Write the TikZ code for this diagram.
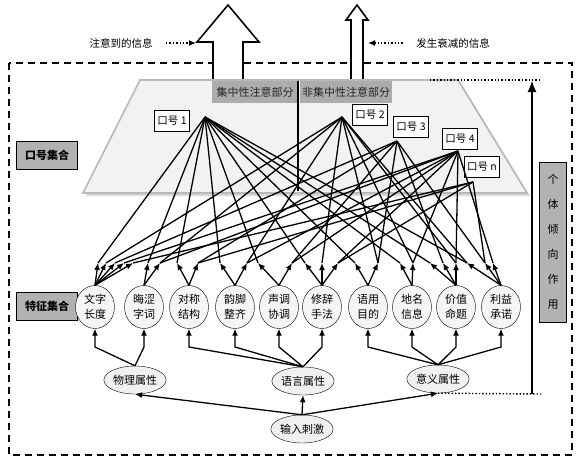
\documentclass[tikz,border=0pt]{standalone}
\usepackage{fontspec}
\setmainfont{Noto Sans CJK SC}
\usetikzlibrary{arrows.meta,shapes.geometric,shadows}

\begin{document}
\begin{tikzpicture}[x=1pt,y=-1pt,>={Latex[length=7pt,width=6pt]},
  font=\fontsize{10.5}{12}\selectfont,
  setbox/.style={draw, fill=gray!60, minimum width=61pt, minimum height=28pt, inner sep=1pt, font=\fontsize{11}{12}\selectfont\bfseries},
  partbox/.style={fill=gray!65, minimum height=22pt, inner sep=1pt, text=black!85, font=\fontsize{11}{12}\selectfont},
  slogan/.style={draw, fill=white, minimum width=35pt, minimum height=21pt, inner sep=1pt},
  feature/.style={draw, ellipse, fill=gray!8, minimum width=39pt, minimum height=43pt, inner sep=0pt, align=center, font=\fontsize{11}{15}\selectfont},
  attr/.style={draw, ellipse, fill=gray!12, minimum width=61pt, minimum height=28pt, inner sep=0pt, font=\fontsize{11}{12}\selectfont},
  link/.style={line width=1.3pt}]
\useasboundingbox (0,0) rectangle (580,463);

\draw[line width=1.6pt, dash pattern=on 7pt off 5pt] (9,63) rectangle (572,455);

\draw[line width=1.6pt, fill=white] (213,84) -- (213,42) -- (197,42) -- (228,5) -- (259,42) -- (243,42) -- (243,84);
\draw[line width=1.6pt, fill=white] (351,84) -- (351,20) -- (346,20) -- (357,5) -- (368,20) -- (363,20) -- (363,84);

\node (seen) at (121,43) {注意到的信息};
\node (lost) at (453,43) {发生衰减的信息};
\coordinate (seentip) at (196,43);
\coordinate (losttip) at (368,43);
\draw[dotted, line width=1.4pt, ->] ([xshift=10pt]seen.east) -- (seentip);
\draw[dotted, line width=1.4pt, ->] ([xshift=-10pt]lost.west) -- (losttip);

\draw[draw=gray!55, line width=1.6pt, fill=gray!10, drop shadow={shadow xshift=3pt, shadow yshift=-3pt, fill=black!30}]
  (140,80) -- (458,80) -- (527,193) -- (83,193) -- cycle;
\node[partbox, minimum width=86pt] (focus) at (255,92) {集中性注意部分};
\node[partbox, minimum width=92pt] (nofocus) at (346,92) {非集中性注意部分};
\draw[line width=2.2pt] (focus.north east) -- ([yshift=-110pt]focus.north east);

\node[setbox] (sloganset) at (47,155) {口号集合};
\node[setbox] (featureset) at (47,306) {特征集合};
\node[draw, fill=gray!60, minimum width=27pt, minimum height=160pt, inner sep=0pt, align=center, font=\fontsize{11}{25}\selectfont] (bias) at (553,242) {个\\体\\倾\\向\\作\\用};

\coordinate (ttop) at (532,80);
\coordinate (tbot) at (532,394);
\draw[dotted, line width=1.4pt] (430,80) -- ([xshift=9pt]ttop);

\node[slogan] (s1) at (172,121) {口号 1};
\node[slogan] (s2) at (370,115) {口号 2};
\node[slogan] (s3) at (411,127) {口号 3};
\node[slogan] (s4) at (460,139) {口号 4};
\node[slogan] (sn) at (482,167) {口号 n};
\coordinate (h1) at (205,117);
\coordinate (h2) at (342,117);
\coordinate (h3) at (397,141);
\coordinate (h4) at (458,151);
\coordinate (hn) at (473,182);

\foreach \f/\x/\t in {1/95/文字\\长度, 2/144/晦涩\\字词, 3/189/对称\\结构, 4/235/韵脚\\整齐, 5/279/声调\\协调,
  6/322/修辞\\手法, 7/368/语用\\目的, 8/412/地名\\信息, 9/456/价值\\命题, 10/501/利益\\承诺}
  \node[feature] (f\f) at (\x,307) {\t};

\foreach \p/\x in {1a/98, 1b/106, 1c/115, 1d/124, 1e/133, 2a/148, 2b/160, 3a/177, 3b/198, 4a/220, 4b/247,
  5a/258, 5b/292, 6a/305, 6b/322, 6c/338, 7a/355, 7b/378, 8a/400, 8b/413, 9a/430, 9b/443, 9c/456,
  10a/467, 10b/485, 10c/493}
  \coordinate (p\p) at (\x,263);

\foreach \p/\h in {1a/1, 2a/1, 3a/1, 4a/1, 5a/1, 6a/1, 7a/1, 8a/1, 9a/1, 10a/1,
  1b/2, 2b/2, 4b/2, 6b/2, 7b/2, 8b/2, 9c/2, 10a/2,
  1c/3, 3b/3, 5b/3, 7b/3, 9b/3, 10b/3,
  1d/4, 2b/4, 4b/4, 5b/4, 6c/4, 8b/4, 9c/4, 10c/4,
  1e/n, 3b/n, 6c/n, 10b/n}
  \draw[link] (p\p) -- (h\h);

\foreach \p/\f in {1a/1, 1b/1, 1c/1, 1d/1, 1e/1, 2a/2, 2b/2, 3a/3, 3b/3, 4a/4, 4b/4, 5a/5, 5b/5,
  6a/6, 6b/6, 6c/6, 7a/7, 7b/7, 8a/8, 8b/8, 9a/9, 9b/9, 9c/9, 10a/10, 10b/10, 10c/10}
  \draw[link, ->] (f\f.north) -- (p\p);

\node[attr] (a1) at (135,380) {物理属性};
\node[attr] (a2) at (303,381) {语言属性};
\node[attr] (a3) at (438,379) {意义属性};
\node[attr] (input) at (302,429) {输入刺激};
\coordinate (elbow) at (0,347);

\foreach \f/\a in {1/1, 2/1, 3/2, 4/2, 5/2, 6/2, 7/3, 8/3, 9/3, 10/3}
  \draw[link, ->] (a\a.north) -- (f\f.south |- elbow) -- (f\f.south);

\draw[link, ->] (input.north) -- (a1.south);
\draw[link, ->] (input.north) -- (a2.south);
\draw[link, ->] (input.north) -- (a3.south);

\draw[dotted, line width=1.4pt] (a3.south) -- ([xshift=9pt]tbot);
\draw[line width=2.6pt, -{Latex[length=12pt,width=9pt]}] (tbot) -- (ttop);
\end{tikzpicture}
\end{document}
